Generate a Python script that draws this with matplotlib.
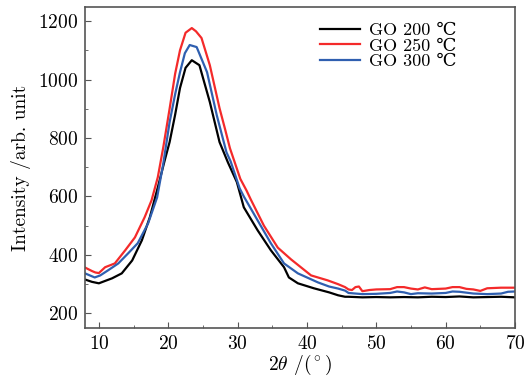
import matplotlib
matplotlib.use("Agg")
import matplotlib.pyplot as plt
from matplotlib.ticker import MultipleLocator

# GO 200 C
x_200 = [8, 9, 10, 11, 11.9, 13.3, 14.8, 16.2, 17.35, 18.5, 19.5, 20.2, 21, 21.7, 22.5, 23.4,
         24.5, 25.2, 26, 27.4, 28.6, 29.9, 30.9, 32.9, 34.8, 36.7, 37.4, 38.7, 41, 43.2,
         44.5, 45.5, 46, 48, 50, 52, 54, 56, 58, 60, 62, 64, 66, 68, 70]
y_200 = [316, 308, 303, 312, 320, 337, 381, 450, 529, 631, 724, 786, 880, 971, 1040, 1066,
         1049, 990, 923, 786, 717, 649, 563, 484, 416, 358, 323, 303, 286, 272,
         262, 257, 257, 255, 256, 255, 256, 255, 257, 256, 258, 255, 256, 257, 255]

# GO 250 C
x_250 = [8, 9, 9.5, 10, 10.9, 12.3, 13.8, 15.2, 16.6, 17.6, 18.5, 19.3, 20.2, 21, 21.7, 22.5,
         23.4, 24, 24.8, 26, 27.4, 28.2, 28.9, 30.4, 31.3, 31.9, 33.8, 35.8, 37.7, 40.6, 43,
         44.5, 45.5, 46, 46.5, 47, 47.5, 48, 49, 50, 52, 53, 54, 55, 56, 57, 58, 60, 61, 62,
         63, 64, 65, 66, 68, 70]
y_250 = [357, 345, 340, 338, 358, 371, 416, 460, 529, 587, 666, 770, 900, 1020, 1100, 1160,
         1176, 1165, 1142, 1049, 902, 830, 765, 660, 620, 590, 500, 425, 385, 330, 313,
         300, 290, 282, 280, 290, 292, 276, 280, 282, 283, 290, 290, 285, 282, 289, 283, 285,
         290, 290, 284, 282, 277, 286, 288, 288]

# GO 300 C
x_300 = [8, 9.4, 10.2, 11.3, 12.8, 14.2, 15.6, 17.1, 18.4, 19.3, 20.2, 21, 21.7, 22.4, 23.1,
         24.1, 25.6, 27, 28.4, 29, 30.3, 30.9, 32.9, 34.8, 36.7, 38.7, 41.6, 43.2, 44.5, 45.5,
         46, 47, 48, 50, 52, 53, 54, 55, 56, 58, 60, 61, 62, 64, 66, 68, 69, 70]
y_300 = [337, 323, 330, 347, 371, 405, 440, 508, 597, 714, 854, 950, 1025, 1090, 1118,
         1111, 1025, 878, 751, 720, 628, 600, 518, 440, 371, 337, 306, 292, 285, 278,
         270, 268, 266, 267, 270, 275, 272, 266, 269, 268, 270, 275, 274, 268, 266, 268, 274, 275]

labels = ["GO 200 \u2103", "GO 250 \u2103", "GO 300 \u2103"]

plt.rcParams["font.family"] = ["cmr10", "DejaVu Serif"]
plt.rcParams["mathtext.fontset"] = "cm"
plt.rcParams["axes.formatter.use_mathtext"] = True
plt.rcParams["axes.unicode_minus"] = False

fig = plt.figure(figsize=(5.26, 3.81), dpi=100)
ax = fig.add_axes([0.1616, 0.139, 0.8174, 0.8426])

ax.plot(x_200, y_200, color="black", lw=1.6, label=labels[0])
ax.plot(x_250, y_250, color="#f42a2a", lw=1.6, label=labels[1])
ax.plot(x_300, y_300, color="#2f5fb0", lw=1.6, label=labels[2])

ax.set_xlim(8, 70)
ax.set_ylim(150, 1248)
ax.xaxis.set_major_locator(MultipleLocator(10))
ax.xaxis.set_minor_locator(MultipleLocator(5))
ax.yaxis.set_major_locator(MultipleLocator(200))
ax.yaxis.set_minor_locator(MultipleLocator(100))
ax.tick_params(which="both", direction="in", color="#555555", labelsize=14, top=False, right=False)
ax.tick_params(which="major", length=4, pad=5)
ax.tick_params(which="minor", length=2.5)
for s in ax.spines.values():
    s.set_color("#555555")
    s.set_linewidth(1.2)

ax.set_xlabel(r"$2\theta$ /($^\circ$)", fontsize=14, labelpad=0)
ax.set_ylabel("Intensity /arb. unit", fontsize=14, labelpad=5)

ax.legend(loc="upper left", bbox_to_anchor=(0.53, 0.975), frameon=False, fontsize=13,
          handlelength=2.2, labelspacing=0.0, handletextpad=0.5, borderaxespad=0)

fig.savefig("out.png", dpi=100)
